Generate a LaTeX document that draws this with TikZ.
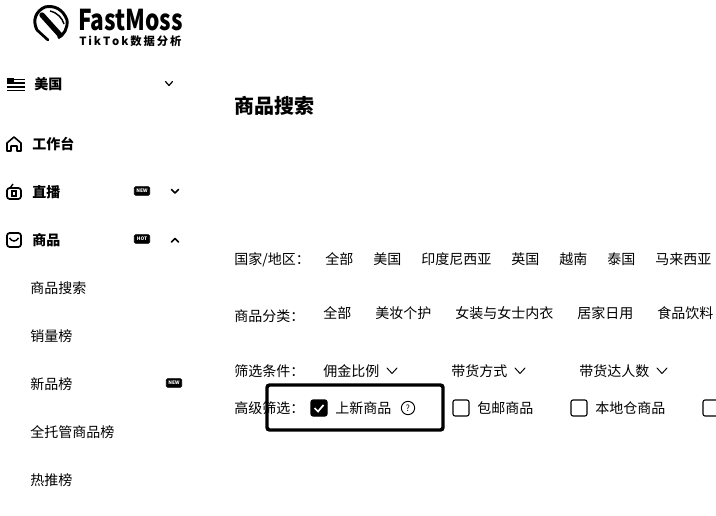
\documentclass[tikz,border=0pt]{standalone}
\usepackage{fontspec}
\setmainfont{Noto Sans CJK SC}
\tikzset{
  label/.style={anchor=west, inner sep=0pt, font=\fontsize{10.5}{12}\selectfont},
  menu/.style={label, font=\fontsize{10.5}{12}\selectfont\bfseries},
  chev/.style={line width=0.9pt, line cap=round, line join=round},
  badge/.style={draw, fill=black, text=white, line width=0.6pt, rounded corners=1pt, minimum width=11.5pt, minimum height=6.5pt, inner sep=0pt, font=\fontsize{3.6}{4}\selectfont\bfseries},
  checkbox/.style={draw, line width=0.8pt, rounded corners=1.5pt, minimum size=12pt, inner sep=0pt},
}
\begin{document}
\begin{tikzpicture}[x=0.75pt, y=-0.75pt]
  \useasboundingbox (0,0) rectangle (716,516);
  \fill[white] (0,0) rectangle (716,516);
  % logo
  \draw[line width=2.2pt] (37,30) .. controls (32,20) and (36,11) .. (45,7) .. controls (54,5) and (63,9) .. (67,20) .. controls (68,28) and (64,35) .. (58,38);
  \draw[line width=4pt, line cap=round] (42,15) -- (60,35);
  \draw[line width=1.1pt] (50,11) .. controls (58,13) and (62,18) .. (64,24);
  \draw[line width=2pt, line cap=round] (37,30) -- (48,40);
  \node[label, font=\fontsize{21.5}{24}\selectfont\bfseries, xscale=0.79] (logo) at (78,20) {FastMoss};
  \node[label, font=\fontsize{8.5}{10}\selectfont\bfseries] (logosub) at (79,41) {T\,i\,k\,T\,o\,k\,数\,据\,分\,析};
  % sidebar
  \fill (7,78) rectangle (14,84);
  \draw[line width=0.9pt] (14,79.5) -- (25,79.5);
  \draw[line width=0.9pt] (14,83) -- (25,83);
  \fill (7,86) rectangle (25,88);
  \draw[line width=0.9pt] (7,90.5) -- (25,90.5);
  \node[label, font=\fontsize{10.5}{12}\selectfont\bfseries] (country) at (34,84) {美国};
  \draw[chev] (165.5,81.5) -- (169,85.5) -- (172.5,81.5);
  \draw[line width=1.2pt, line join=round] (7,151) -- (7,143) -- (14,137) -- (21,143) -- (21,151) -- (17,151) -- (17,146) -- (11,146) -- (11,151) -- cycle;
  \node[menu] (workbench) at (32,144) {工作台};
  \draw[line width=1.3pt, rounded corners=2pt] (7,188) rectangle (21,199);
  \draw[line width=1pt] (10,188) -- (13,184);
  \draw[line width=1pt] (12,191) rectangle (16,196);
  \node[menu] (live) at (32,192) {直播};
  \node[badge] (livebadge) at (142,191) {NEW};
  \draw[chev, line width=1.3pt] (171.5,189.5) -- (175,193) -- (178.5,189.5);
  \draw[line width=1.3pt, rounded corners=2pt] (7,233) rectangle (21,247);
  \draw[line width=1.1pt] (9.5,238) .. controls (12,242) and (16,242) .. (18.5,238);
  \node[menu] (goods) at (32,240) {商品};
  \node[badge] (goodsbadge) at (142,239) {HOT};
  \draw[chev, line width=1.3pt] (171.5,242) -- (175,238.5) -- (178.5,242);
  \node[label] (search) at (30,288) {商品搜索};
  \node[label] (sales) at (30,336) {销量榜};
  \node[label] (newrank) at (30,384) {新品榜};
  \node[badge] (newbadge) at (174,383) {NEW};
  \node[label] (hosted) at (30,432) {全托管商品榜};
  \node[label] (hot) at (30,480) {热推榜};
  % title
  \node[label, font=\fontsize{15}{18}\selectfont\bfseries] (title) at (234,106) {商品搜索};
  % country row
  \node[label] (countrylabel) at (234,260) {国家/地区：};
  \node[label] (c1) at (325,259) {全部};
  \node[label] (c2) at (373,259) {美国};
  \node[label] (c3) at (421,259) {印度尼西亚};
  \node[label] (c4) at (511,259) {英国};
  \node[label] (c5) at (559,259) {越南};
  \node[label] (c6) at (607,259) {泰国};
  \node[label] (c7) at (655,259) {马来西亚};
  % category row
  \node[label] (catlabel) at (234,316) {商品分类：};
  \node[label] (k1) at (323,313) {全部};
  \node[label] (k2) at (375,313) {美妆个护};
  \node[label] (k3) at (455,313) {女装与女士内衣};
  \node[label] (k4) at (577,313) {居家日用};
  \node[label] (k5) at (657,313) {食品饮料};
  % filter row
  \node[label] (filterlabel) at (234,371) {筛选条件：};
  \node[label] (f1) at (323,371) {佣金比例};
  \draw[chev, line width=0.7pt] (387,368) -- (392,373.5) -- (397,368);
  \node[label] (f2) at (451,371) {带货方式};
  \draw[chev, line width=0.7pt] (515,368) -- (520,373.5) -- (525,368);
  \node[label] (f3) at (579,371) {带货达人数};
  \draw[chev, line width=0.7pt] (657,368) -- (662,373.5) -- (667,368);
  % advanced row
  \node[label] (advlabel) at (234,408) {高级筛选：};
  \node[checkbox, fill=black] (box1) at (319,408) {};
  \draw[white, line width=1.3pt] (314.5,408) -- (318,411.5) -- (323.5,405);
  \node[label] (a1) at (335,408) {上新商品};
  \node[circle, draw, line width=0.7pt, minimum size=10pt, inner sep=0pt, font=\fontsize{6.5}{8}\selectfont] (help) at (408,408) {?};
  \node[checkbox] (box2) at (461,408) {};
  \node[label] (a2) at (477,408) {包邮商品};
  \node[checkbox] (box3) at (579,408) {};
  \node[label] (a3) at (595,408) {本地仓商品};
  \node[checkbox] (box4) at (711,408) {};
  % highlight
  \draw[line width=2.6pt, rounded corners=2pt] (267,385) rectangle (443,430);
\end{tikzpicture}
\end{document}
